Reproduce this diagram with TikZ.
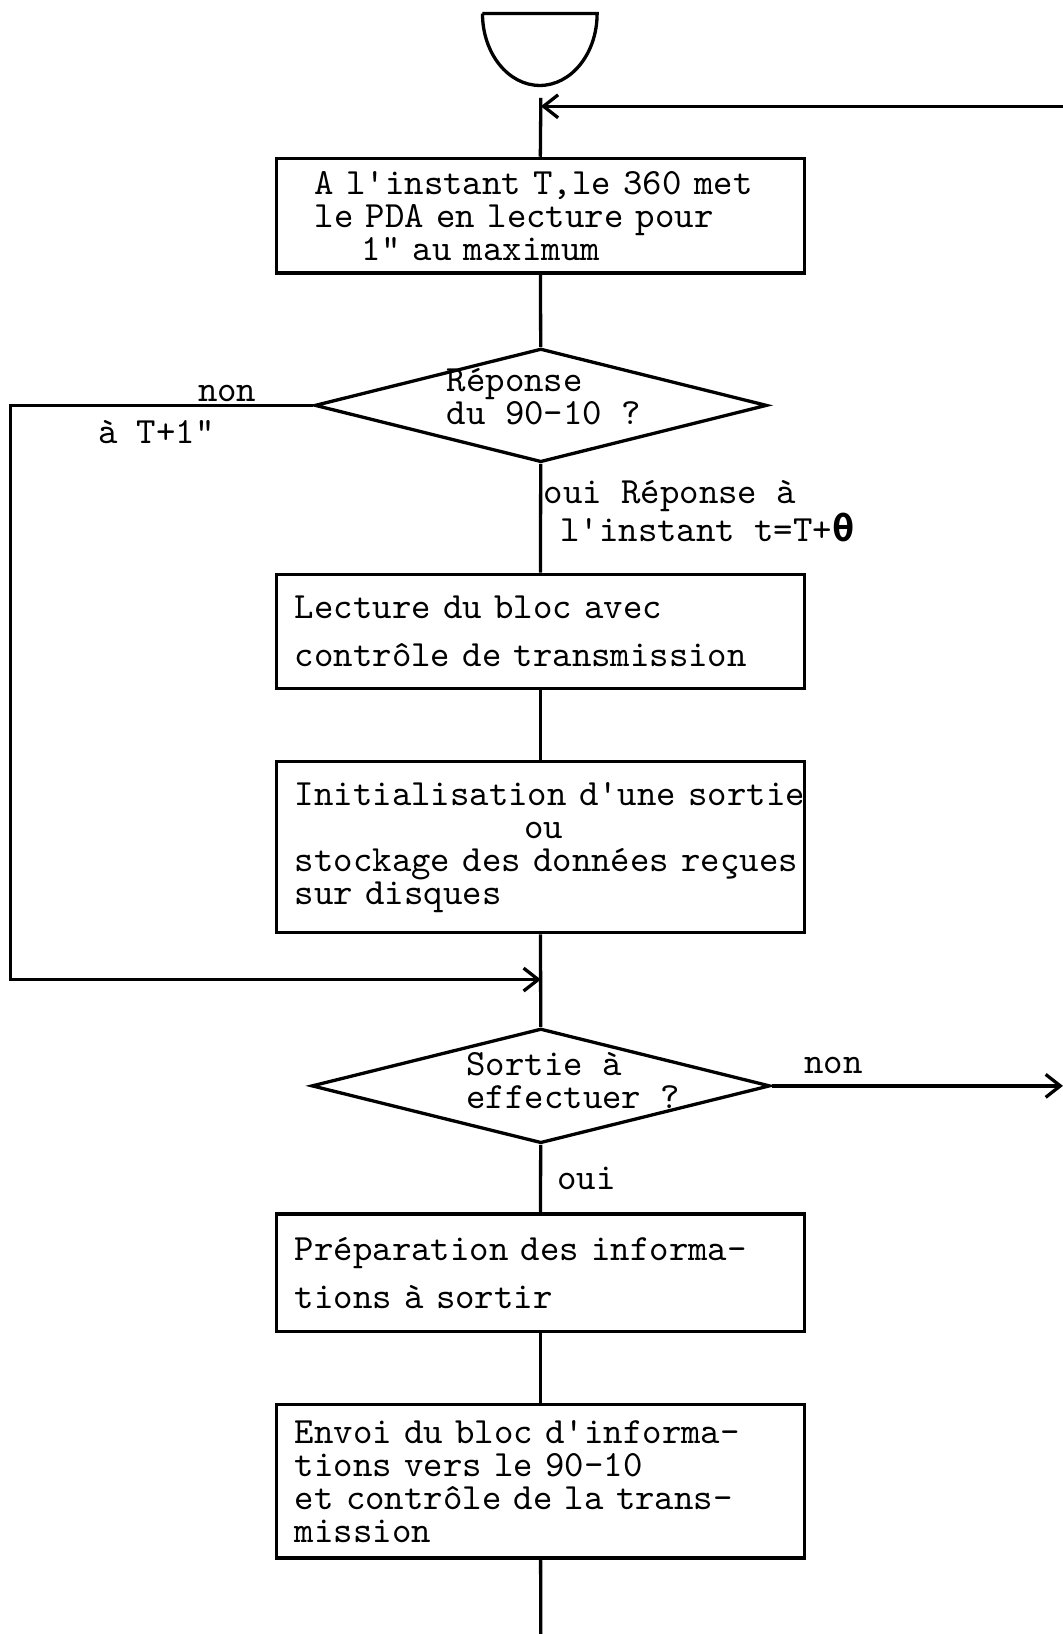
\documentclass[tikz,border=0pt]{standalone}
\usepackage{amsmath}
\usepackage{fontspec}
\newfontfamily\greekmono{DejaVu Sans Mono}
\usetikzlibrary{arrows.meta,positioning,shapes.geometric}
\tikzset{
  flow line/.style={line width=0.9pt,draw=black},
  flow arrow/.style={flow line,-{Straight Barb[length=1.4mm,width=2.2mm]}},
  proc box/.style={draw,line width=0.9pt,text width=47.1mm,inner xsep=1.8mm,inner ysep=0pt,align=left,minimum height=11mm},
  test diamond/.style={diamond,draw,line width=0.9pt,inner sep=0pt,minimum width=43.4mm,minimum height=10.9mm},
  flow label/.style={inner sep=0pt,align=left}
}

\begin{document}
\begin{tikzpicture}[x=1mm,y=-1mm,font=\ttfamily\fontsize{10.1}{9.0}\selectfont]
\useasboundingbox (0,0) rectangle (102,156.8);
% start symbol
\draw[line width=0.9pt] (46.3,1.3) -- (57.3,1.3) arc[start angle=0,end angle=180,x radius=5.5,y radius=6.9];
\coordinate (start) at (51.9,9.4);
\coordinate (loopin) at (102,10.2);
\coordinate (join1) at (51.9,10.2);
\node[proc box] (b1) at (51.85,20.7) {\hspace*{1.9mm}A l'instant T,le 360 met\\ \hspace*{1.9mm}le PDA en lecture pour\\ \hspace*{6.4mm}1" au maximum};

% first test
\node[test diamond] (q1) at (51.9,38.9) {};
\node[flow label,anchor=west] (q1txt) at (42.8,38.1) {Réponse\\du 90-10 ?};
\node[flow label] (non1) at (21.8,37.8) {non};
\node[flow label] (delai) at (15.0,41.5) {à T+1"};
\node[flow label,anchor=west] (oui1) at (52.1,47.6) {oui Réponse à};
\node[flow label,anchor=west] (oui1b) at (53.7,50.6) {l'instant t=T+{\greekmono\bfseries θ}};
\coordinate (loopcorner) at (1.0,94.0);

\node[proc box] (b2) at (51.85,60.6) {Lecture du bloc avec\\[4.2pt] contrôle de transmission};
\node[proc box,minimum height=16.4mm] (b3) at (51.85,81.3) {\mbox{Initialisation d'une sortie}\\ \hspace*{22mm}ou\\ \mbox{stockage des données reçues}\\ sur disques};
\coordinate (join2) at (51.9,94.0);

% second test
\node[test diamond,minimum width=44mm,minimum height=11mm] (q2) at (51.9,104.2) {};
\node[flow label,anchor=west] (q2txt) at (44.7,103.7) {Sortie à\\effectuer ?};
\node[flow label] (non2) at (80.0,102.2) {non};
\coordinate (exitR) at (102,104.2);
\node[flow label] (oui2) at (56.3,113.1) {oui};

\node[proc box,minimum height=11.3mm] (b4) at (51.85,122.15) {Préparation des informa-\\[4.2pt] tions à sortir};
\node[proc box,minimum height=14.7mm] (b5) at (51.85,142.15) {Envoi du bloc d'informa-\\ tions vers le 90-10\\ et contrôle de la trans-\\ mission};
\coordinate (end) at (51.9,156.8);

\draw[flow line] (start) -- (b1.north);
\draw[flow arrow] (loopin) -- (join1);
\draw[flow line] (b1) -- (q1);
\draw[flow line] (q1) -- (b2);
\draw[flow line] (b2) -- (b3);
\draw[flow line] (b3) -- (q2);
\draw[flow arrow] (q1.west) -| (loopcorner) -- (join2);
\draw[flow arrow] (q2.east) -- (exitR);
\draw[flow line] (q2) -- (b4);
\draw[flow line] (b4) -- (b5);
\draw[flow line] (b5) -- (end);
\end{tikzpicture}
\end{document}
